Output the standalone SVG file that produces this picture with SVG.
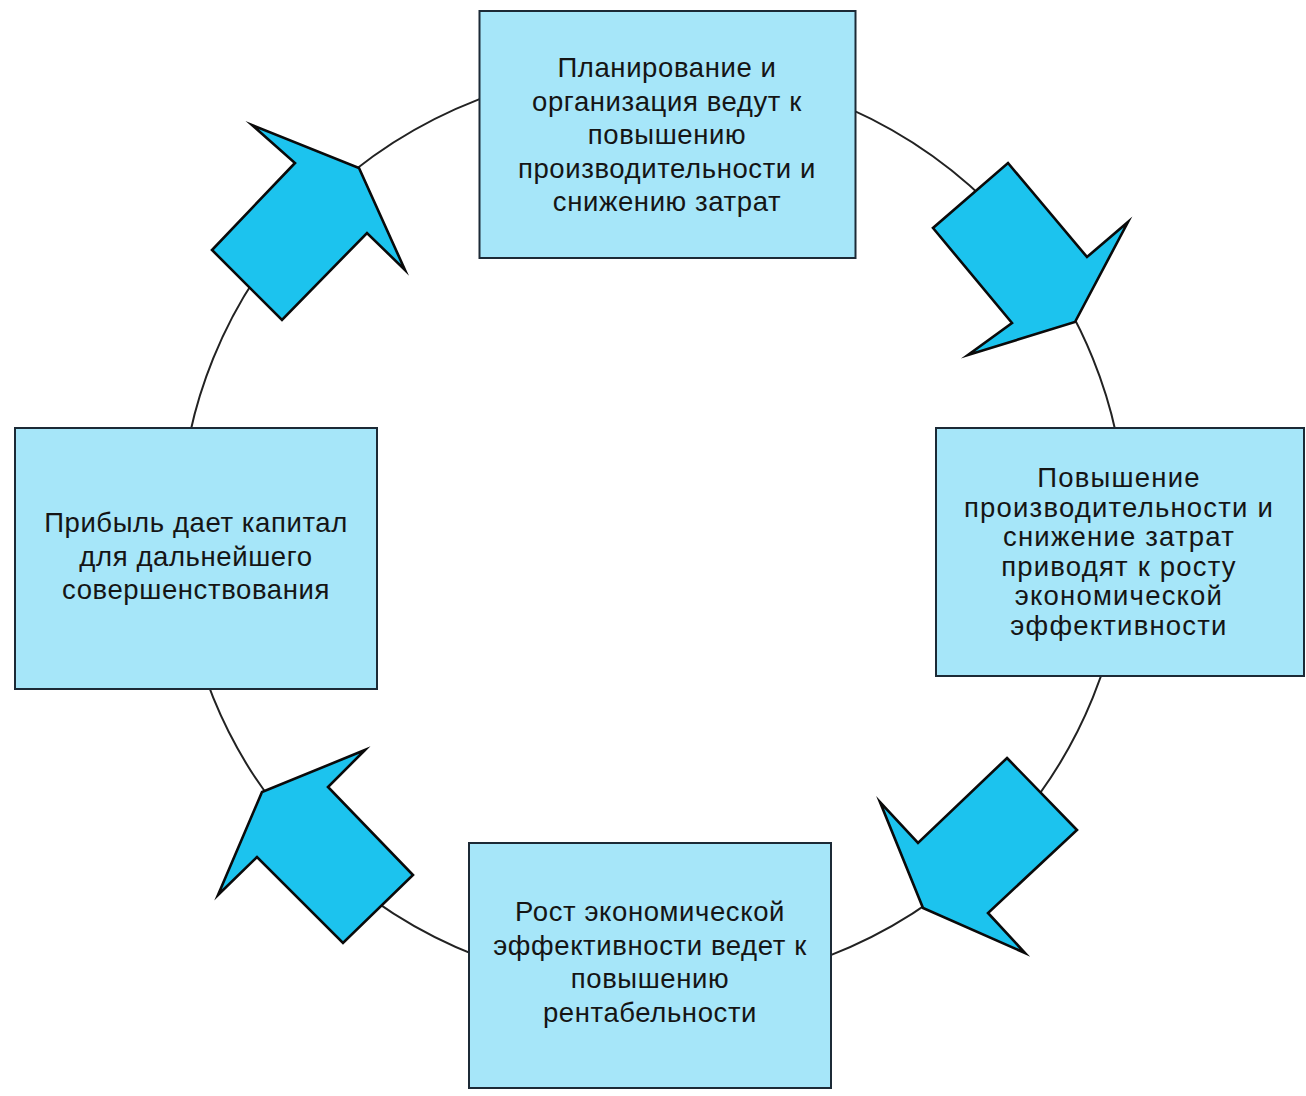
<svg xmlns="http://www.w3.org/2000/svg" width="1306" height="1096" viewBox="0 0 1306 1096">
<style>
.box{fill:#a6e6f9;stroke:#1c2a36;stroke-width:2}
.t{font-family:"Liberation Sans",Arial,sans-serif;font-size:27.5px;letter-spacing:0.6px;fill:#151515;text-anchor:middle}
.w{letter-spacing:1.2px}
.arr{fill:#1cc3ee;stroke:#0a0a0a;stroke-width:2.6;stroke-linejoin:miter;stroke-miterlimit:12}
.ring{fill:none;stroke:#222;stroke-width:2}
</style>
<rect width="1306" height="1096" fill="#fff"/>
<g id="connectors">
<ellipse class="ring" cx="653" cy="528" rx="473" ry="461"/>
<polygon class="arr" points="359,168 405,270 367,233 282,320 212,250 295,163 252,125"/>
<polygon class="arr" points="1008,163 1087,257 1128,222 1075,322 968,355 1012,323 933,228"/>
<polygon class="arr" points="1007,758 1077,830 988,913 1025,953 923,908 880,802 918,843"/>
<polygon class="arr" points="365,750 328,787 413,875 343,943 257,857 218,895 262,792"/>
</g>
<g id="node-top">
<rect class="box" x="479.5" y="11" width="376" height="247"/>
<text class="t" x="667" y="77">Планирование и</text>
<text class="t" x="667" y="110.5">организация ведут к</text>
<text class="t" x="667" y="144">повышению</text>
<text class="t" x="667" y="177.5">производительности и</text>
<text class="t" x="667" y="211">снижению затрат</text>
</g>
<g id="node-right">
<rect class="box" x="936" y="428" width="368" height="248"/>
<text class="t w" x="1119" y="487">Повышение</text>
<text class="t w" x="1119" y="516.5">производительности и</text>
<text class="t w" x="1119" y="546">снижение затрат</text>
<text class="t w" x="1119" y="575.5">приводят к росту</text>
<text class="t w" x="1119" y="605">экономической</text>
<text class="t w" x="1119" y="634.5">эффективности</text>
</g>
<g id="node-bottom">
<rect class="box" x="469" y="843" width="362" height="245"/>
<text class="t" x="650" y="921">Рост экономической</text>
<text class="t" x="650" y="954.5">эффективности ведет к</text>
<text class="t" x="650" y="988">повышению</text>
<text class="t" x="650" y="1021.5">рентабельности</text>
</g>
<g id="node-left">
<rect class="box" x="15" y="428" width="362" height="261"/>
<text class="t" x="196" y="532">Прибыль дает капитал</text>
<text class="t" x="196" y="565.5">для дальнейшего</text>
<text class="t" x="196" y="599">совершенствования</text>
</g>
</svg>
